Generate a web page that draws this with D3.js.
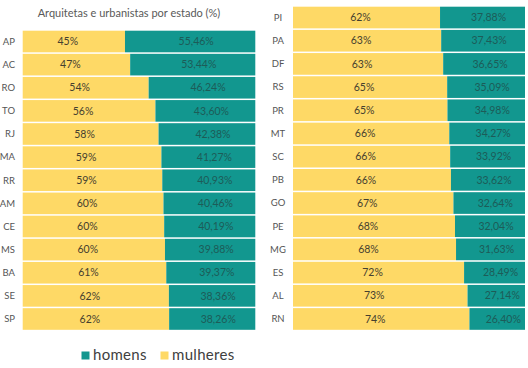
<!DOCTYPE html>
<html><head><meta charset="utf-8">
<script src="https://cdn.jsdelivr.net/npm/d3@7"></script>
<style>body{margin:0;background:#fff}svg{display:block}</style>
</head><body>
<svg id="c" width="528" height="368"></svg>
<script>
const leftStates = ["AP","AC","RO","TO","RJ","MA","RR","AM","CE","MS","BA","SE","SP"];
const leftMulheresLabels = ["45%","47%","54%","56%","58%","59%","59%","60%","60%","60%","61%","62%","62%"];
const leftHomens = [55.46,53.44,46.24,43.60,42.38,41.27,40.93,40.46,40.19,39.88,39.37,38.36,38.26];

const rightStates = ["PI","PA","DF","RS","PR","MT","SC","PB","GO","PE","MG","ES","AL","RN"];
const rightMulheresLabels = ["62%","63%","63%","65%","65%","66%","66%","66%","67%","68%","68%","72%","73%","74%"];
const rightHomens = [37.88,37.43,36.65,35.09,34.98,34.27,33.92,33.62,32.64,32.04,31.63,28.49,27.14,26.40];

const title = "Arquitetas e urbanistas por estado (%)";
const seriesNames = ["homens","mulheres"];
const colors = {homens:"#12978f", mulheres:"#fed966"};
const font = "Lato, 'Open Sans', sans-serif";

const svg = d3.select("#c");

function panel(id, states, mLabels, homens, x0, x1, y0, y1, labelX, labelAnchor){
  const x = d3.scaleLinear().domain([4.7, 95.3]).range([x0, x1]);
  const y = d3.scaleBand().domain(states).range([y0, y1]).paddingInner(0.065).paddingOuter(0.03);
  svg.append("clipPath").attr("id", id).append("rect")
    .attr("x", x0).attr("y", y0).attr("width", x1 - x0).attr("height", y1 - y0);
  const rows = states.map((s,i)=>({s, h: homens[i], ml: mLabels[i], m: 100 - homens[i]}));
  const g = svg.append("g").attr("clip-path", `url(#${id})`);
  g.selectAll("rect.m").data(rows).join("rect")
    .attr("x", x(0)).attr("y", d=>y(d.s)).attr("width", d=>x(d.m)-x(0)).attr("height", y.bandwidth())
    .attr("fill", colors.mulheres);
  g.selectAll("rect.h").data(rows).join("rect")
    .attr("x", d=>x(d.m)).attr("y", d=>y(d.s)).attr("width", d=>x(100)-x(d.m)).attr("height", y.bandwidth())
    .attr("fill", colors.homens);
  const t = svg.append("g").style("font-family", font).style("font-size","10.5px");
  t.selectAll("text.ml").data(rows).join("text")
    .attr("x", d=>(x(0)+x(d.m))/2).attr("y", d=>y(d.s)+y.bandwidth()/2).attr("dy","0.35em")
    .attr("text-anchor","middle").attr("fill","#45402f").text(d=>d.ml);
  t.selectAll("text.hl").data(rows).join("text")
    .attr("x", d=>(x(d.m)+x(100))/2).attr("y", d=>y(d.s)+y.bandwidth()/2).attr("dy","0.35em")
    .attr("text-anchor","middle").attr("fill","#1d5c58").text(d=>d.h.toFixed(2).replace(".",",")+"%");
  t.selectAll("text.cat").data(rows).join("text")
    .attr("x", labelX).attr("y", d=>y(d.s)+y.bandwidth()/2).attr("dy","0.35em")
    .attr("text-anchor", labelAnchor).attr("fill","#555").style("font-size","9.5px").text(d=>d.s);
}

panel("clipL", leftStates, leftMulheresLabels, leftHomens, 22.7, 255.3, 30, 330.5, 15, "end");
panel("clipR", rightStates, rightMulheresLabels, rightHomens, 293, 525, 6, 330.5, 278, "middle");

svg.append("text").attr("x",129).attr("y",17).attr("text-anchor","middle")
  .style("font-family", font).style("font-size","11px").attr("fill","#595959").text(title);

const leg = svg.append("g").style("font-family", font).style("font-size","15px");
const legX = [81.5, 160.5];
seriesNames.forEach((n,i)=>{
  leg.append("rect").attr("x", legX[i]).attr("y", 351.5).attr("width", 8).attr("height", 8).attr("fill", colors[n]);
  leg.append("text").attr("x", legX[i]+11.5).attr("y", 359.5).attr("fill","#404040")
    .style("letter-spacing","0.3px").text(n);
});
</script>
</body></html>
